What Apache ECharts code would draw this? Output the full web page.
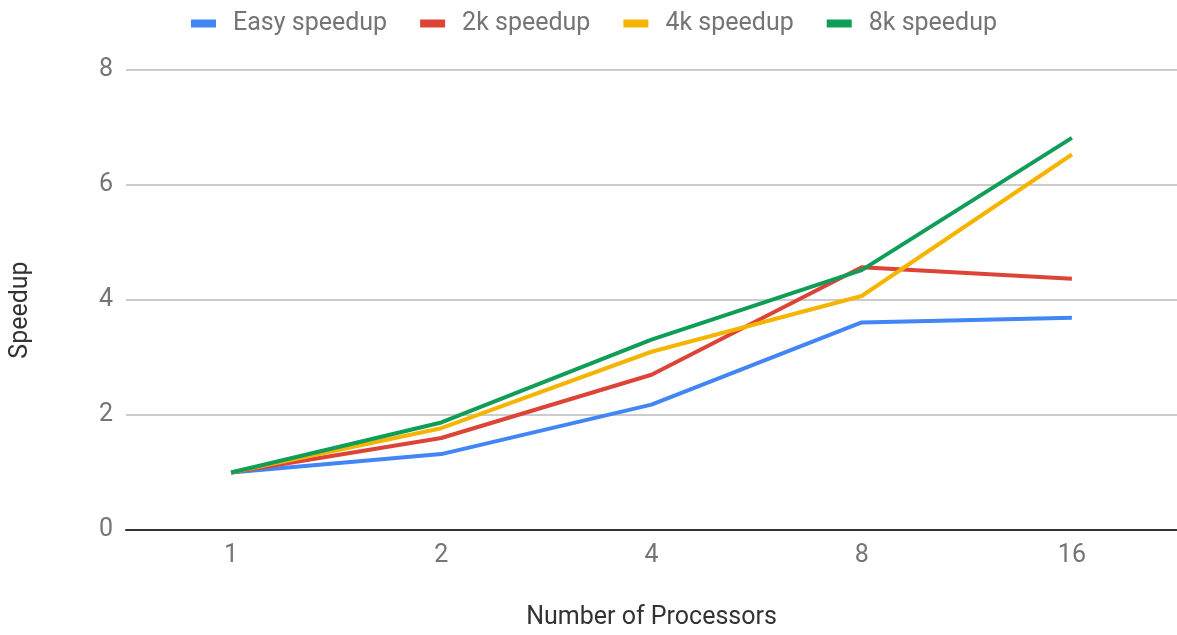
<!DOCTYPE html>
<html>
<head>
<meta charset="utf-8">
<script src="https://cdn.jsdelivr.net/npm/echarts@6/dist/echarts.min.js"></script>
<style>
  html, body { margin: 0; padding: 0; background: #fff; }
  #chart { width: 1177px; height: 635px; }
</style>
</head>
<body>
<div id="chart"></div>
<script>
// Processor counts on the x axis
const processors = ['1', '2', '4', '8', '16'];

// Speedup measured for each problem size
const easySpeedup = [1.0, 1.32, 2.18, 3.61, 3.69];
const speedup2k   = [1.0, 1.60, 2.70, 4.57, 4.37];
const speedup4k   = [1.0, 1.77, 3.10, 4.07, 6.53];
const speedup8k   = [1.0, 1.87, 3.31, 4.52, 6.82];

const seriesNames  = ['Easy speedup', '2k speedup', '4k speedup', '8k speedup'];
const seriesColors = ['#4285F4', '#DB4437', '#F4B400', '#0F9D58'];
const seriesData   = [easySpeedup, speedup2k, speedup4k, speedup8k];

const FONT = 'Roboto';

const chart = echarts.init(document.getElementById('chart'), null, { renderer: 'canvas' });

chart.setOption({
  animation: false,
  backgroundColor: '#ffffff',
  color: seriesColors,
  textStyle: { fontFamily: FONT },
  legend: {
    top: 6,
    left: 186,
    itemWidth: 25,
    itemHeight: 8,
    itemGap: 33,
    icon: 'rect',
    textStyle: { fontFamily: FONT, fontSize: 25, color: '#757575', padding: [0, 0, 0, 12] },
    data: seriesNames
  },
  grid: {
    left: 125,
    top: 70,
    width: 1055,
    height: 463,
    containLabel: false
  },
  xAxis: {
    type: 'category',
    data: processors,
    boundaryGap: true,
    name: 'Number of Processors',
    nameLocation: 'middle',
    nameGap: 75,
    nameTextStyle: { fontFamily: FONT, fontSize: 25, color: '#333333' },
    axisLine: { show: true, lineStyle: { color: '#333333', width: 2 } },
    axisTick: { show: false },
    axisLabel: { fontFamily: FONT, fontSize: 25, color: '#757575', margin: 13 },
    splitLine: { show: false }
  },
  yAxis: {
    type: 'value',
    min: 0,
    max: 8,
    interval: 2,
    name: 'Speedup',
    nameLocation: 'middle',
    nameGap: 93,
    nameRotate: 90,
    nameTextStyle: { fontFamily: FONT, fontSize: 25, color: '#333333', padding: [0, 20, 0, 0] },
    axisLine: { show: false },
    axisTick: { show: false },
    axisLabel: { fontFamily: FONT, fontSize: 25, color: '#757575', margin: 13 },
    splitLine: { show: true, lineStyle: { color: '#cccccc', width: 2 } }
  },
  series: seriesNames.map((name, i) => ({
    name: name,
    type: 'line',
    data: seriesData[i],
    symbol: 'none',
    lineStyle: { width: 4, color: seriesColors[i] },
    itemStyle: { color: seriesColors[i] },
    z: 2 + i
  }))
});
</script>
</body>
</html>
